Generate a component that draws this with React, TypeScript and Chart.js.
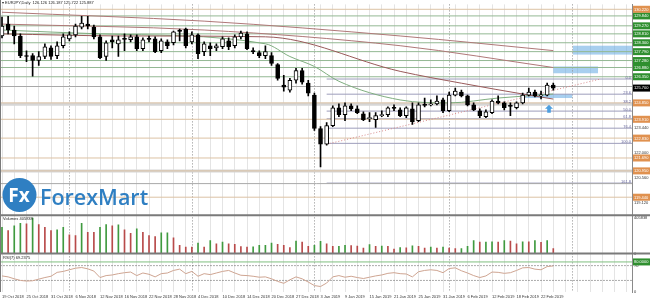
import React, { useEffect, useRef } from 'react';
import { Chart, registerables } from 'chart.js';

Chart.register(...registerables);

const FONT = '"Liberation Sans", Arial, sans-serif';

const tickDates = ['19 Oct 2018', '25 Oct 2018', '31 Oct 2018', '6 Nov 2018', '12 Nov 2018', '16 Nov 2018', '22 Nov 2018', '28 Nov 2018', '4 Dec 2018', '10 Dec 2018', '14 Dec 2018', '20 Dec 2018', '27 Dec 2018', '3 Jan 2019', '9 Jan 2019', '15 Jan 2019', '21 Jan 2019', '25 Jan 2019', '31 Jan 2019', '6 Feb 2019', '12 Feb 2019', '18 Feb 2019', '22 Feb 2019'];

const opens = [128.69, 129.37, 129.03, 128.69, 127.56, 127.56, 127.28, 127.51, 128.01, 127.56, 128.13, 128.52, 128.75, 129.20, 129.37, 129.20, 128.64, 127.51, 128.47, 128.24, 128.52, 128.47, 128.64, 127.96, 128.52, 128.52, 127.84, 128.35, 128.30, 128.97, 129.09, 128.35, 128.75, 127.79, 128.13, 128.01, 128.07, 128.41, 128.13, 128.64, 128.81, 127.84, 127.73, 127.56, 127.56, 127.05, 125.87, 125.58, 126.15, 126.71, 125.98, 125.30, 123.38, 122.48, 123.55, 124.57, 124.17, 124.68, 124.51, 124.23, 123.95, 123.89, 124.12, 124.17, 124.57, 124.45, 124.12, 124.51, 123.83, 124.74, 124.74, 124.79, 125.02, 124.40, 125.30, 125.47, 125.25, 124.74, 124.40, 124.06, 124.29, 124.96, 124.85, 124.68, 124.57, 124.85, 125.30, 125.47, 125.25, 125.30, 125.87];
const highs = [129.77, 129.82, 129.26, 128.81, 127.84, 127.68, 127.79, 128.24, 128.13, 128.35, 128.81, 128.92, 129.37, 129.82, 129.82, 129.31, 128.75, 128.41, 128.69, 128.69, 128.81, 128.75, 128.75, 128.58, 128.69, 128.64, 128.52, 128.47, 128.97, 129.09, 129.14, 128.92, 128.81, 128.35, 128.30, 128.24, 128.64, 128.58, 128.75, 128.97, 128.92, 128.01, 127.84, 128.13, 127.73, 127.11, 126.43, 126.26, 126.83, 126.83, 126.15, 125.41, 123.49, 123.72, 124.68, 124.79, 124.85, 124.79, 124.68, 124.34, 124.29, 124.29, 124.40, 124.62, 124.74, 124.57, 124.62, 124.85, 124.85, 125.13, 125.02, 125.25, 125.13, 125.47, 125.70, 125.58, 125.30, 124.85, 124.51, 124.45, 125.02, 125.25, 124.91, 124.85, 124.91, 125.41, 125.70, 125.58, 125.53, 125.98, 125.98];
const lows = [128.58, 128.81, 128.24, 127.45, 127.22, 126.38, 127.00, 127.39, 127.34, 127.39, 128.01, 128.41, 128.64, 129.09, 129.09, 128.52, 127.39, 127.28, 128.01, 127.51, 127.84, 128.35, 127.84, 127.84, 128.35, 127.73, 127.73, 127.96, 128.18, 128.41, 128.01, 128.24, 127.39, 127.56, 127.56, 127.84, 127.96, 127.90, 128.01, 128.52, 127.90, 127.68, 127.45, 127.39, 127.00, 126.15, 125.53, 125.47, 125.98, 125.92, 125.25, 123.27, 121.18, 122.42, 123.49, 124.06, 123.83, 124.40, 124.23, 123.83, 123.78, 123.44, 124.06, 124.06, 124.40, 124.06, 124.00, 123.61, 123.78, 124.62, 124.68, 124.74, 124.29, 124.34, 125.25, 125.19, 124.68, 124.40, 124.00, 124.00, 124.23, 124.79, 124.45, 124.12, 124.51, 124.79, 125.25, 125.19, 125.08, 125.25, 125.58];
const closes = [129.26, 129.03, 128.69, 127.56, 127.51, 127.28, 127.51, 128.07, 127.51, 128.13, 128.64, 128.75, 129.26, 129.43, 129.26, 128.64, 127.45, 128.30, 128.35, 128.47, 128.49, 128.64, 127.96, 128.47, 128.49, 127.79, 128.41, 128.13, 128.92, 128.95, 128.13, 128.75, 127.68, 128.24, 127.96, 128.13, 128.52, 128.07, 128.64, 128.86, 127.96, 127.79, 127.56, 127.79, 127.11, 126.26, 125.75, 126.15, 126.71, 126.04, 125.41, 123.38, 122.48, 123.55, 124.57, 124.17, 124.68, 124.51, 124.29, 123.89, 124.00, 124.12, 124.17, 124.57, 124.54, 124.12, 124.57, 123.78, 124.74, 124.71, 124.79, 124.96, 124.40, 125.30, 125.53, 125.25, 124.74, 124.45, 124.12, 124.34, 124.96, 124.85, 124.57, 124.65, 124.85, 125.30, 125.47, 125.25, 125.30, 125.87, 125.70];

const volumes = [300000, 263000, 319000, 346000, 340000, 405838, 331000, 301000, 263000, 271000, 301000, 214000, 207000, 346000, 244000, 243000, 301000, 331000, 319000, 330000, 271000, 233000, 282000, 244000, 207000, 195000, 237000, 238000, 180000, 94000, 75000, 74000, 120000, 75000, 150000, 113000, 132000, 113000, 105000, 80000, 75000, 78000, 94000, 95000, 120000, 105000, 94000, 68000, 143000, 132000, 83000, 94000, 139000, 113000, 83000, 84000, 94000, 93000, 86000, 64000, 102000, 83000, 86000, 82000, 53000, 68000, 66000, 90000, 83000, 64000, 75000, 64000, 75000, 63000, 56000, 57000, 83000, 150000, 132000, 133000, 135000, 131000, 150000, 143000, 113000, 135000, 134000, 150000, 128000, 150000, 56000];

const rsiValues = [42.2, 39.6, 34.4, 30, 28.3, 29.1, 33.5, 37.8, 41.3, 51.8, 54.4, 58.8, 63.1, 64.9, 61.4, 55.3, 37.8, 43.1, 44.8, 48.3, 50.9, 52.7, 43.1, 50.1, 46.6, 39.6, 48.3, 50.1, 57, 60.5, 48.3, 54.4, 41.3, 48.3, 45.7, 50.1, 54.4, 57, 50.1, 44, 43.1, 41.3, 38.7, 39.6, 34.4, 27.4, 22.2, 31.7, 39.6, 34.4, 25.6, 16.1, 13.5, 23, 39.6, 43.1, 38.7, 41.3, 37.8, 35.2, 38.7, 42.2, 44.8, 49.2, 50.9, 48.3, 47.4, 39.6, 53.5, 57, 58.8, 57, 50.9, 62.2, 64, 56.1, 50.1, 43.1, 37.8, 42.2, 52.7, 51.8, 49.2, 50.9, 57, 64, 64.9, 60.5, 58.8, 67.5, 69.2];

// moving averages: [bar index, price]
const maSlow = [[0, 130.05], [33, 129.54], [65, 128.69], [90, 127.85]];
const maMid = [[0, 129.37], [33, 129.03], [65, 128.13], [90, 126.88]];
const maFast = [[0, 128.81], [20, 128.69], [43, 128.64], [65, 126.66], [75, 125.98], [86, 125.30], [90, 125.07]];
const maGreen = [[0, 129.03], [16, 128.81], [43, 128.24], [47, 127.51], [51, 126.94], [55, 126.09], [65, 125.02], [73, 124.85], [81, 125.13], [90, 125.36]];

const greenLevels = [129.84, 129.27, 128.81, 128.30, 127.79, 127.28, 126.88, 126.35];
const orangeLevels = [130.22, 124.85, 123.91, 122.83, 121.69, 120.95, 119.44];
const grayLevels = [125.79, 120.22];
const bandLevels = [124.77, 120.95];
const fibNames = ['0.0', '23.6', '38.2', '50.0', '61.8', '76.4', '100.0', '161.8'];
const fibPrices = [126.22, 125.35, 124.81, 124.38, 123.94, 123.40, 122.53, 120.25];
const fibStart = 53;
const trendLine = [[53, 122.48], [97.6, 126.21]];
const blueZones = [[93.2, 102.85, 127.62, 128.13], [90, 97.3, 126.55, 126.94], [85.4, 93.1, 125.13, 125.36]];
const upArrow = [89.3, 124.74, 124.29];
const monthStarts = [11, 31, 51, 73, 93];
const priceTicks = [119.12, 119.84, 120.56, 121.28, 122.0, 122.72, 123.44, 124.16, 124.88, 125.6, 126.32, 127.04, 127.76, 128.48, 129.2, 129.92];
const rsiTicks = [0, 30, 70, 100];
const rsiLevels = [30, 70];
const rsiMark = 80;
const volTicks = [0, 405838];

const X_MIN = -0.245;
const X_MAX = 102.85;
const SMALL = 4;

const pts = (arr: number[][]) => arr.map(([x, y]) => ({ x, y }));
const hline = (p: number, from: number, color: string, w: number) => ({
  type: 'line', data: [{ x: from, y: p }, { x: X_MAX, y: p }], borderColor: color, borderWidth: w,
  pointRadius: 0, yAxisID: 'y', order: 20,
});

const overlay = {
  id: 'overlay',
  beforeDraw(chart: any) {
    const { ctx, width, height } = chart;
    ctx.save();
    ctx.fillStyle = '#ffffff';
    ctx.fillRect(0, 0, width, height);
    ctx.restore();
  },
  beforeDatasetsDraw(chart: any) {
    const { ctx, scales, chartArea } = chart;
    const x = scales.x, y = scales.y;
    ctx.save();
    ctx.fillStyle = 'rgba(110,175,228,0.6)';
    blueZones.forEach(([a, b, lo, hi]) => {
      const x0 = x.getPixelForValue(a), x1 = x.getPixelForValue(b);
      const y0 = y.getPixelForValue(hi), y1 = y.getPixelForValue(lo);
      ctx.fillRect(x0, y0, x1 - x0, y1 - y0);
    });
    ctx.strokeStyle = '#8c8c8c';
    ctx.lineWidth = 1;
    ctx.setLineDash([1, 2]);
    monthStarts.forEach((m) => {
      const px = Math.round(x.getPixelForValue(m)) + 0.5;
      ctx.beginPath();
      ctx.moveTo(px, chartArea.top);
      ctx.lineTo(px, chartArea.bottom);
      ctx.stroke();
    });
    ctx.restore();
  },
  afterDraw(chart: any) {
    const { ctx, scales, chartArea } = chart;
    const x = scales.x, y = scales.y, yv = scales.yVol, yr = scales.yRsi;
    ctx.save();
    ctx.strokeStyle = '#7a7a7a';
    ctx.lineWidth = 2;
    [y.bottom, yv.bottom].forEach((b: number) => {
      ctx.beginPath();
      ctx.moveTo(0, b);
      ctx.lineTo(chart.width, b);
      ctx.stroke();
    });
    ctx.lineWidth = 1;
    ctx.beginPath();
    ctx.moveTo(0.5, 0);
    ctx.lineTo(0.5, chartArea.bottom);
    ctx.stroke();
    const ax = x.getPixelForValue(upArrow[0]);
    const at = y.getPixelForValue(upArrow[1]);
    const ab = y.getPixelForValue(upArrow[2]);
    ctx.fillStyle = '#4d9fe0';
    ctx.beginPath();
    ctx.moveTo(ax, at);
    ctx.lineTo(ax + 4, at + 4);
    ctx.lineTo(ax + 1.8, at + 4);
    ctx.lineTo(ax + 1.8, ab);
    ctx.lineTo(ax - 1.8, ab);
    ctx.lineTo(ax - 1.8, at + 4);
    ctx.lineTo(ax - 4, at + 4);
    ctx.closePath();
    ctx.fill();
    ctx.font = SMALL + 'px ' + FONT;
    ctx.fillStyle = '#6b6ba0';
    ctx.textAlign = 'right';
    ctx.textBaseline = 'bottom';
    fibPrices.forEach((p, i) => {
      ctx.fillText(fibNames[i], chartArea.right - 1, y.getPixelForValue(p) + 0.5);
    });
    const box = (py: number, color: string, text: string) => {
      ctx.fillStyle = color;
      ctx.fillRect(chartArea.right + 1, py - 3.5, 18, 7);
      ctx.fillStyle = '#ffffff';
      ctx.textAlign = 'left';
      ctx.textBaseline = 'middle';
      ctx.fillText(text, chartArea.right + 2, py + 0.3);
    };
    ctx.font = SMALL + 'px ' + FONT;
    greenLevels.forEach((p) => box(y.getPixelForValue(p), '#2f8f2f', p.toFixed(3)));
    orangeLevels.forEach((p) => box(y.getPixelForValue(p), '#e0914f', p.toFixed(3)));
    const last = closes[closes.length - 1];
    box(y.getPixelForValue(last), '#000000', last.toFixed(3));
    box(yr.getPixelForValue(rsiMark), '#2f8f2f', rsiMark.toFixed(4));
    ctx.fillStyle = '#222';
    ctx.textAlign = 'left';
    ctx.textBaseline = 'top';
    ctx.font = SMALL + 'px ' + FONT;
    ctx.fillText('\u25BE EURJPY,Daily  126.126 126.187 125.722 125.887', 2, 1);
    ctx.fillText('Volumes 405838', 3, yv.top + 2);
    ctx.fillText('RSI(7) 69.2375', 3, yr.top + 2);
    ctx.fillStyle = '#2f7fc2';
    ctx.beginPath();
    ctx.arc(19.5, 195, 17, 0, Math.PI * 2);
    ctx.fill();
    ctx.fillStyle = '#ffffff';
    ctx.font = 'bold 19px "Open Sans", sans-serif';
    ctx.textAlign = 'center';
    ctx.textBaseline = 'alphabetic';
    ctx.fillText('Fx', 19, 202);
    ctx.fillStyle = '#2f7fc2';
    ctx.textAlign = 'left';
    ctx.font = '600 21.5px "Open Sans", sans-serif';
    ctx.fillText('ForexMart', 40, 205);
    ctx.restore();
  },
};

export default function App() {
  const ref = useRef<HTMLCanvasElement>(null);
  useEffect(() => {
    document.body.style.margin = '0';
    const idx = opens.map((_, i) => i);
    const volColors = volumes.map((v, i) => (i === 0 || v > volumes[i - 1] ? '#3f9a3f' : '#b84a4a'));
    const yFit = (s: any) => { s.width = 18; };
    const tickFont = { size: SMALL, family: FONT };
    const chart = new Chart(ref.current as HTMLCanvasElement, {
      type: 'bar',
      data: {
        datasets: [
          ...greenLevels.map((p) => hline(p, X_MIN, '#93b893', 1)),
          ...orangeLevels.map((p) => hline(p, X_MIN, '#dcc2a4', 1)),
          ...grayLevels.map((p) => hline(p, X_MIN, '#a9a9a9', 1)),
          ...bandLevels.map((p) => hline(p, X_MIN, '#d6d6d6', 3)),
          ...fibPrices.map((p) => hline(p, fibStart, '#9d9dbb', 1)),
          {
            type: 'line', data: pts(trendLine), borderColor: '#d88a8a', borderWidth: 1, borderDash: [1, 2],
            pointRadius: 0, yAxisID: 'y', order: 15,
          },
          { type: 'line', data: pts(maSlow), borderColor: '#b07878', borderWidth: 1, pointRadius: 0, yAxisID: 'y', order: 10, cubicInterpolationMode: 'monotone' },
          { type: 'line', data: pts(maMid), borderColor: '#b07878', borderWidth: 1, pointRadius: 0, yAxisID: 'y', order: 10, cubicInterpolationMode: 'monotone' },
          { type: 'line', data: pts(maFast), borderColor: '#9a5a5a', borderWidth: 1, pointRadius: 0, yAxisID: 'y', order: 10, cubicInterpolationMode: 'monotone' },
          { type: 'line', data: pts(maGreen), borderColor: '#7fae7f', borderWidth: 1, pointRadius: 0, yAxisID: 'y', order: 10, cubicInterpolationMode: 'monotone' },
          {
            type: 'bar', data: idx.map((i) => ({ x: i, y: [lows[i], highs[i]] })), backgroundColor: '#000',
            barThickness: 1, grouped: false, yAxisID: 'y', order: 3,
          },
          {
            type: 'bar', data: idx.map((i) => ({ x: i, y: [opens[i], closes[i]] })),
            backgroundColor: idx.map((i) => (closes[i] < opens[i] ? '#000' : '#fff')),
            borderColor: '#000', borderWidth: 1, borderSkipped: false, barThickness: 4, minBarLength: 1,
            grouped: false, yAxisID: 'y', order: 2,
          },
          {
            type: 'bar', data: idx.map((i) => ({ x: i, y: volumes[i] })), backgroundColor: volColors,
            barThickness: 1, grouped: false, yAxisID: 'yVol', order: 2,
          },
          ...rsiLevels.map((l) => ({
            type: 'line', data: [{ x: X_MIN, y: l }, { x: X_MAX, y: l }], borderColor: '#555', borderWidth: 1,
            borderDash: [1, 2], pointRadius: 0, yAxisID: 'yRsi', order: 20,
          })),
          {
            type: 'line', data: [{ x: X_MIN, y: rsiMark }, { x: X_MAX, y: rsiMark }], borderColor: '#7fbf7f', borderWidth: 1,
            pointRadius: 0, yAxisID: 'yRsi', order: 20,
          },
          {
            type: 'line', data: idx.map((i) => ({ x: i, y: rsiValues[i] })), borderColor: '#cfa592', borderWidth: 1,
            pointRadius: 0, yAxisID: 'yRsi', order: 5,
          },
        ] as any,
      },
      options: {
        animation: false,
        responsive: false,
        devicePixelRatio: 1,
        events: [],
        layout: { padding: 0 },
        plugins: { legend: { display: false }, tooltip: { enabled: false } },
        scales: {
          x: {
            type: 'linear', min: X_MIN, max: X_MAX, offset: false, position: 'bottom',
            afterBuildTicks: (s: any) => {
              const t = [];
              for (let i = 0; i <= 102; i += 2) t.push({ value: i });
              s.ticks = t;
            },
            afterFit: (s: any) => { s.height = 8; },
            grid: { color: '#e4e4e4', lineWidth: 1, drawTicks: false, offset: false },
            border: { display: false },
            ticks: {
              autoSkip: false, maxRotation: 0, minRotation: 0, align: 'start', padding: 2, color: '#333',
              font: tickFont,
              callback: (v: any) => (v % 4 === 0 && v / 4 < tickDates.length ? tickDates[v / 4] : ''),
            },
          },
          y: {
            type: 'linear', position: 'right', stack: 'panes', stackWeight: 214, min: 118.41, max: 130.5,
            beginAtZero: false,
            afterBuildTicks: (s: any) => { s.ticks = priceTicks.map((v) => ({ value: v })); },
            afterFit: yFit,
            grid: { display: false, drawTicks: false },
            border: { display: true, color: '#8a8a8a' },
            ticks: { padding: 2, color: '#333', font: tickFont, callback: (v: any) => Number(v).toFixed(3) },
          },
          yVol: {
            type: 'linear', position: 'right', stack: 'panes', stackWeight: 39, min: 0, max: 439700,
            afterBuildTicks: (s: any) => { s.ticks = volTicks.map((v) => ({ value: v })); },
            afterFit: yFit,
            grid: { display: false, drawTicks: false },
            border: { display: true, color: '#8a8a8a' },
            ticks: { padding: 2, color: '#333', font: tickFont, callback: (v: any) => String(v) },
          },
          yRsi: {
            type: 'linear', position: 'right', stack: 'panes', stackWeight: 39, min: -1.3, max: 102.6,
            afterBuildTicks: (s: any) => { s.ticks = rsiTicks.map((v) => ({ value: v })); },
            afterFit: yFit,
            grid: { display: false, drawTicks: false },
            border: { display: true, color: '#8a8a8a' },
            ticks: { padding: 2, color: '#333', font: tickFont, callback: (v: any) => String(v) },
          },
        },
      } as any,
      plugins: [overlay],
    });
    return () => chart.destroy();
  }, []);
  return (
    <div style={{ width: 650, height: 300 }}>
      <canvas ref={ref} width={650} height={300} style={{ display: 'block', width: 650, height: 300 }} />
    </div>
  );
}
